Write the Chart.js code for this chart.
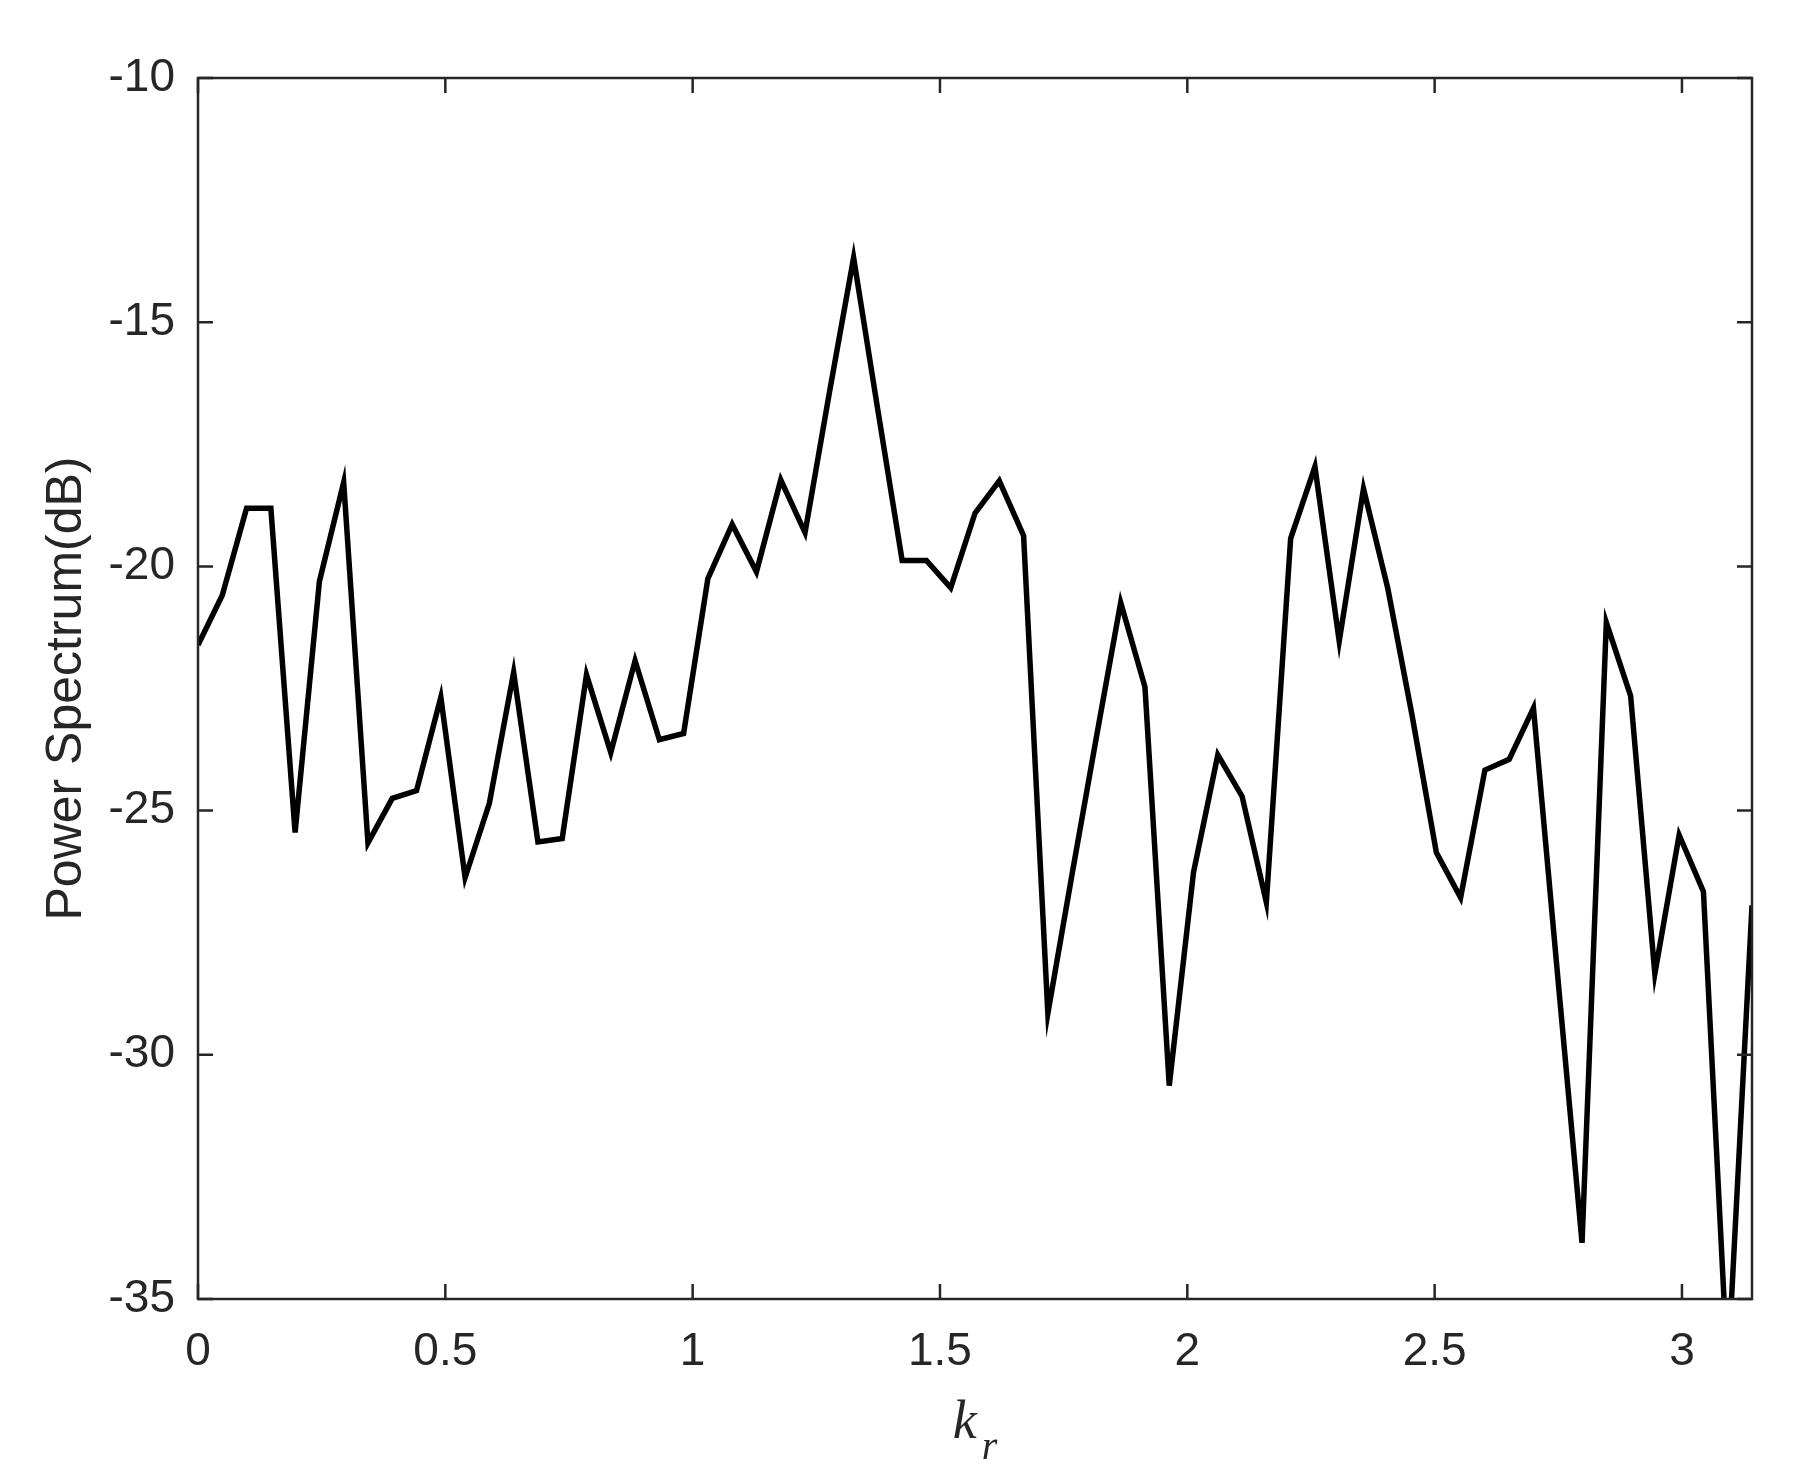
<!DOCTYPE html>
<html>
<head>
<meta charset="utf-8">
<script src="https://cdn.jsdelivr.net/npm/chart.js@4.4.1/dist/chart.umd.min.js"></script>
<style>
  html, body { margin: 0; padding: 0; background: #fff; }
  #wrap { width: 1816px; height: 1480px; position: relative; }
</style>
</head>
<body>
<div id="wrap"><canvas id="spectrum"></canvas></div>
<script>
// k_r samples (0..pi, 65 points)
const kr = [
  0, 0.0491, 0.0982, 0.1473, 0.1963, 0.2454, 0.2945, 0.3436, 0.3927, 0.4418,
  0.4909, 0.5400, 0.5890, 0.6381, 0.6872, 0.7363, 0.7854, 0.8345, 0.8836, 0.9327,
  0.9817, 1.0308, 1.0799, 1.1290, 1.1781, 1.2272, 1.2763, 1.3254, 1.3744, 1.4235,
  1.4726, 1.5217, 1.5708, 1.6199, 1.6690, 1.7181, 1.7671, 1.8162, 1.8653, 1.9144,
  1.9635, 2.0126, 2.0617, 2.1108, 2.1598, 2.2089, 2.2580, 2.3071, 2.3562, 2.4053,
  2.4544, 2.5035, 2.5525, 2.6016, 2.6507, 2.6998, 2.7489, 2.7980, 2.8471, 2.8962,
  2.9452, 2.9943, 3.0434, 3.0925, 3.1416
];

// power spectrum in dB
const powerDb = [
  -21.61, -20.59, -18.81, -18.81, -25.45, -20.31, -18.28, -25.66, -24.75, -24.59,
  -22.68, -26.37, -24.85, -22.17, -25.64, -25.57, -22.22, -23.81, -21.93, -23.55,
  -23.42, -20.25, -19.14, -20.11, -18.23, -19.31, -16.45, -13.68, -16.80, -19.88,
  -19.88, -20.44, -18.91, -18.25, -19.37, -29.15, -26.30, -23.50, -20.74, -22.47,
  -30.63, -26.26, -23.86, -24.71, -26.88, -19.43, -17.96, -21.53, -18.41, -20.45,
  -23.05, -25.86, -26.78, -24.17, -23.95, -22.90, -28.40, -33.85, -21.15, -22.65,
  -28.34, -25.50, -26.66, -36.50, -26.94
];

const xTicks = [0, 0.5, 1, 1.5, 2, 2.5, 3];
const yTicks = [-35, -30, -25, -20, -15, -10];

const axisColor = "#262626";
const tickFont = { family: "'Liberation Sans', Arial, sans-serif", size: 46 };

// matlab-like box with inward ticks on all four sides, plus the k_r label
const boxPlugin = {
  id: "matlabBox",
  afterDraw(chart) {
    const { ctx, chartArea: a, scales } = chart;
    const tl = 15;
    ctx.save();
    ctx.strokeStyle = axisColor;
    ctx.lineWidth = 2.5;
    ctx.strokeRect(a.left, a.top, a.right - a.left, a.bottom - a.top);
    ctx.beginPath();
    scales.x.ticks.forEach((t) => {
      const px = scales.x.getPixelForValue(t.value);
      ctx.moveTo(px, a.bottom);
      ctx.lineTo(px, a.bottom - tl);
      ctx.moveTo(px, a.top);
      ctx.lineTo(px, a.top + tl);
    });
    scales.y.ticks.forEach((t) => {
      const py = scales.y.getPixelForValue(t.value);
      ctx.moveTo(a.left, py);
      ctx.lineTo(a.left + tl, py);
      ctx.moveTo(a.right, py);
      ctx.lineTo(a.right - tl, py);
    });
    ctx.stroke();

    // x title: italic k with subscript r
    const kFont = "italic 54px 'Liberation Serif', 'Times New Roman', serif";
    const rFont = "italic 40px 'Liberation Serif', 'Times New Roman', serif";
    ctx.fillStyle = axisColor;
    ctx.textBaseline = "alphabetic";
    ctx.textAlign = "left";
    ctx.font = kFont;
    const kw = ctx.measureText("k").width;
    ctx.font = rFont;
    const rw = ctx.measureText("r").width;
    const gap = 5;
    const cx = (a.left + a.right) / 2;
    const base = scales.x.bottom - 42;
    const x0 = cx - (kw + gap + rw) / 2;
    ctx.font = kFont;
    ctx.fillText("k", x0, base);
    ctx.font = rFont;
    ctx.fillText("r", x0 + kw + gap, base + 21);
    ctx.restore();
  },
};

new Chart(document.getElementById("spectrum"), {
  type: "line",
  data: {
    datasets: [
      {
        data: kr.map((k, i) => ({ x: k, y: powerDb[i] })),
        borderColor: "#000000",
        borderWidth: 5.5,
        pointRadius: 0,
        tension: 0,
        clip: 0,
      },
    ],
  },
  options: {
    responsive: true,
    maintainAspectRatio: false,
    animation: false,
    devicePixelRatio: 1,
    layout: { padding: { top: 78, right: 64, left: 0, bottom: 0 } },
    plugins: { legend: { display: false }, tooltip: { enabled: false } },
    scales: {
      x: {
        type: "linear",
        min: 0,
        max: Math.PI,
        grid: { display: false, drawTicks: false },
        border: { display: false },
        afterBuildTicks: (s) => {
          s.ticks = xTicks.map((v) => ({ value: v }));
        },
        afterFit: (s) => {
          s.height = 181;
        },
        ticks: {
          color: axisColor,
          font: tickFont,
          padding: 26,
          maxRotation: 0,
          autoSkip: false,
          callback: (v) => String(v),
        },
      },
      y: {
        min: -35,
        max: -10,
        grid: { display: false, drawTicks: false },
        border: { display: false },
        afterBuildTicks: (s) => {
          s.ticks = yTicks.map((v) => ({ value: v }));
        },
        afterFit: (s) => {
          s.width = 198;
        },
        ticks: {
          color: axisColor,
          font: tickFont,
          padding: 23,
          callback: (v) => String(v),
        },
        title: {
          display: true,
          text: "Power Spectrum(dB)",
          color: axisColor,
          font: { family: "'Liberation Sans', Arial, sans-serif", size: 50 },
          padding: { top: 37, bottom: 0 },
        },
      },
    },
  },
  plugins: [boxPlugin],
});
</script>
</body>
</html>
